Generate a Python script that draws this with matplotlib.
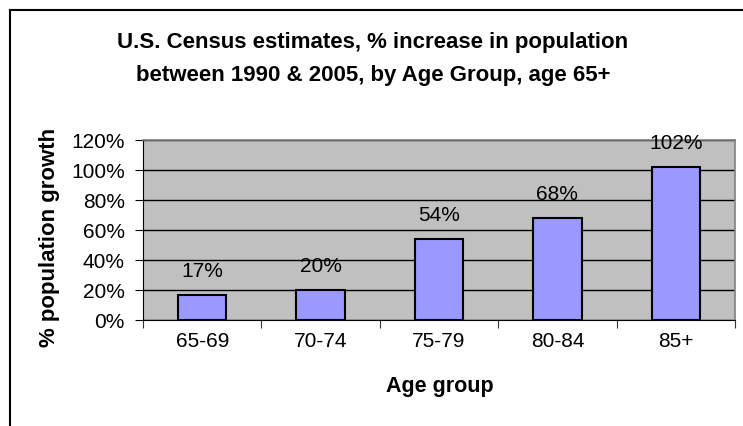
import numpy as np
import matplotlib.pyplot as plt
from matplotlib.lines import Line2D

plt.rcParams['font.family'] = ['Liberation Sans', 'DejaVu Sans']

age_groups = ['65-69', '70-74', '75-79', '80-84', '85+']
growth = [17, 20, 54, 68, 102]
bar_labels = ['17%', '20%', '54%', '68%', '102%']
y_ticks = [0, 20, 40, 60, 80, 100, 120]

W, H = 743, 427
fig = plt.figure(figsize=(W / 100, H / 100), dpi=100)

# plot area in pixels: left 143, right 735, top 141, bottom 321
ax = fig.add_axes([143 / W, 1 - 321 / H, (735 - 143) / W, (321 - 141) / H])
ax.set_facecolor('#C0C0C0')

x = np.arange(len(age_groups))
ax.bar(x, growth, width=0.41, color='#9999FF', edgecolor='black', linewidth=1.5, zorder=3)
for xi, v, lab in zip(x, growth, bar_labels):
    ax.annotate(lab, (xi, v), xytext=(0, 17.5), textcoords='offset points',
                ha='center', va='center', fontsize=15, zorder=4)

ax.set_xlim(-0.5, len(age_groups) - 0.5)
ax.set_ylim(0, 120)
ax.set_yticks(y_ticks)
ax.set_yticklabels([f'{t}%' for t in y_ticks], fontsize=15)
ax.yaxis.grid(True, color='black', linewidth=1)
ax.set_axisbelow(True)

# category ticks between groups, labels centered
ax.set_xticks(np.arange(-0.5, len(age_groups)), minor=False)
ax.set_xticklabels([])
ax.set_xticks(x, minor=True)
ax.set_xticklabels(age_groups, minor=True, fontsize=15)
ax.tick_params(axis='x', which='minor', length=0, pad=8)
ax.tick_params(axis='x', which='major', length=6, direction='out', color='#333333')
ax.tick_params(axis='y', length=6, direction='out', pad=7)

for s in ['top', 'right']:
    ax.spines[s].set_color('#808080')
    ax.spines[s].set_linewidth(1.2)
ax.spines['left'].set_color('black')
ax.spines['bottom'].set_color('black')

fig.text(440 / W, 1 - 387 / H, 'Age group', ha='center', va='center',
         fontsize=15.5, fontweight='bold')
fig.text(50 / W, 1 - 237 / H, '% population growth', ha='center', va='center',
         rotation=90, fontsize=16, fontweight='bold')

fig.text(373 / W, 1 - 59 / H,
         'U.S. Census estimates, % increase in population\nbetween 1990 & 2005, by Age Group, age 65+',
         ha='center', va='center', fontsize=16, fontweight='bold', linespacing=1.72)

# chart area border (left and top visible)
fig.add_artist(Line2D([10 / W, 10 / W], [0, 1 - 11 / H], transform=fig.transFigure, color='black', linewidth=1.5))
fig.add_artist(Line2D([10 / W, 1], [1 - 11 / H, 1 - 11 / H], transform=fig.transFigure, color='black', linewidth=1.5))

fig.savefig('out.png', dpi=100)
